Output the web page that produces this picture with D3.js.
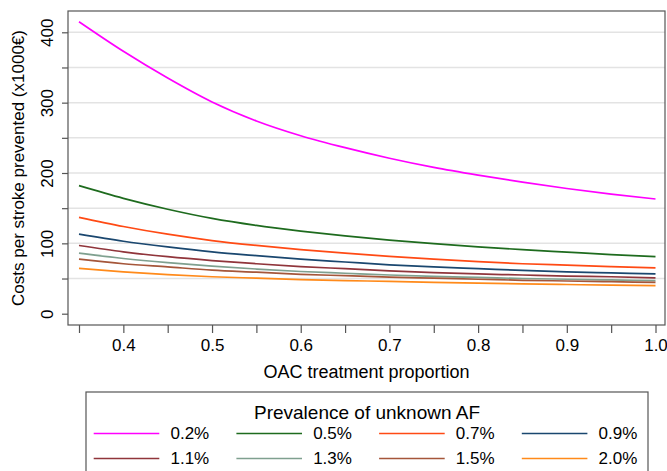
<!DOCTYPE html>
<html>
<head>
<meta charset="utf-8">
<script src="https://cdn.jsdelivr.net/npm/d3@7"></script>
<style>
  body { margin: 0; background: #fff; }
  text { font-family: "Liberation Sans", Arial, sans-serif; fill: #000; }
</style>
</head>
<body>
<div class="chart"></div>
<script>
// DATA ------------------------------------
const proportion = [0.35, 0.40, 0.45, 0.50, 0.55, 0.60, 0.65, 0.70, 0.75, 0.80, 0.85, 0.90, 0.95, 1.00];

const prev02 = [415, 373, 335, 301, 274, 253, 236, 221, 208, 197, 187, 178, 170, 163];
const prev05 = [182, 164, 148.5, 135.5, 125.5, 117.5, 110.5, 104.5, 99.5, 95, 91, 87.5, 84, 81];
const prev07 = [137, 124, 113, 104, 97, 91, 86, 81.5, 77.5, 74, 71, 69, 67, 65];
const prev09 = [113, 103, 95, 88, 82.5, 77.5, 73.5, 69.5, 66.5, 64, 61.5, 59.5, 58, 56.5];
const prev11 = [97, 88, 81, 75.5, 71, 67, 64, 61, 58.5, 56.5, 55, 53.5, 52.5, 51];
const prev13 = [86, 78.5, 72.5, 67.5, 63.5, 60, 57.5, 55, 53, 51.5, 50, 49, 48, 47];
const prev15 = [77.5, 71, 66.5, 62, 59, 56, 54, 52, 50.5, 49, 47.5, 46.5, 45.5, 44.5];
const prev20 = [64.5, 59.5, 55.5, 52.5, 50.5, 48.5, 47, 46, 44.5, 43.5, 42.5, 41.5, 40.5, 40];

const labels = ["0.2%", "0.5%", "0.7%", "0.9%", "1.1%", "1.3%", "1.5%", "2.0%"];
const colors = ["#ff00ff", "#1e6b1e", "#ff4a14", "#1a476f", "#90353b", "#7fa08f", "#a5563a", "#ff8a1a"];

const xTicks = [0.35, 0.40, 0.45, 0.50, 0.55, 0.60, 0.65, 0.70, 0.75, 0.80, 0.85, 0.90, 0.95, 1.00];
const xLabels = [0.4, 0.5, 0.6, 0.7, 0.8, 0.9, 1.0];
const yTicks = [0, 50, 100, 150, 200, 250, 300, 350, 400];
const yLabels = [0, 100, 200, 300, 400];
const yGrid = [50, 100, 150, 200, 250, 300, 350, 400];

const series = [prev02, prev05, prev07, prev09, prev11, prev13, prev15, prev20];

// CHART INIT ------------------------------
const W = 667, H = 471;
const box = {left: 68, right: 665, top: 11, bottom: 325};

const svg = d3.select(".chart").append("svg")
    .attr("width", W)
    .attr("height", H);

const xScale = d3.scaleLinear()
    .domain([0.35, 1.0])
    .range([79, 655.5]);

const yScale = d3.scaleLinear()
    .domain([0, 400])
    .range([313.7, 32.3]);

// gridlines
svg.append("g")
    .selectAll("line")
    .data(yGrid)
    .enter()
    .append("line")
    .attr("x1", box.left)
    .attr("x2", box.right)
    .attr("y1", d => yScale(d))
    .attr("y2", d => yScale(d))
    .attr("stroke", "#e3e3e3")
    .attr("stroke-width", 1.5);

// plot frame
svg.append("rect")
    .attr("x", box.left)
    .attr("y", box.top)
    .attr("width", box.right - box.left)
    .attr("height", box.bottom - box.top)
    .attr("fill", "none")
    .attr("stroke", "#555")
    .attr("stroke-width", 1.2);

// axes
const xAxis = d3.axisBottom(xScale)
    .tickValues(xTicks)
    .tickSize(8)
    .tickFormat(d => xLabels.some(v => Math.abs(v - d) < 1e-9) ? d3.format(".1f")(d) : "");

const gx = svg.append("g")
    .attr("class", "axis x-axis")
    .attr("transform", `translate(0, ${box.bottom})`)
    .call(xAxis);
gx.select(".domain").remove();
gx.selectAll("line").attr("stroke", "#555").attr("stroke-width", 1.2);
gx.selectAll("text")
    .attr("font-size", 17)
    .attr("font-family", "Liberation Sans, Arial, sans-serif")
    .attr("y", 14);

const yAxis = d3.axisLeft(yScale)
    .tickValues(yTicks)
    .tickSize(6)
    .tickFormat(d => yLabels.includes(d) ? d : "");

const gy = svg.append("g")
    .attr("class", "axis y-axis")
    .attr("transform", `translate(${box.left}, 0)`)
    .call(yAxis);
gy.select(".domain").remove();
gy.selectAll("line").attr("stroke", "#555").attr("stroke-width", 1.2);
gy.selectAll("text")
    .attr("font-size", 17)
    .attr("font-family", "Liberation Sans, Arial, sans-serif")
    .attr("transform", "rotate(-90)")
    .attr("text-anchor", "middle")
    .attr("x", 0)
    .attr("y", -15.5)
    .attr("dy", 0);

// axis titles
svg.append("text")
    .attr("x", (box.left + box.right) / 2)
    .attr("y", 378)
    .attr("text-anchor", "middle")
    .attr("font-size", 18)
    .text("OAC treatment proportion");

svg.append("text")
    .attr("transform", `translate(24, ${(box.top + box.bottom) / 2}) rotate(-90)`)
    .attr("text-anchor", "middle")
    .attr("font-size", 17)
    .text("Costs per stroke prevented (x1000€)");

// lines
const line = d3.line()
    .x((d, i) => xScale(proportion[i]))
    .y(d => yScale(d))
    .curve(d3.curveMonotoneX);

svg.append("g")
    .selectAll("path")
    .data(series)
    .enter()
    .append("path")
    .attr("d", line)
    .attr("fill", "none")
    .attr("stroke", (d, i) => colors[i])
    .attr("stroke-width", 1.7);

// LEGEND ----------------------------------
const legend = svg.append("g");
legend.append("rect")
    .attr("x", 86)
    .attr("y", 392)
    .attr("width", 648 - 86)
    .attr("height", 120)
    .attr("fill", "#fff")
    .attr("stroke", "#555")
    .attr("stroke-width", 1.2);

legend.append("text")
    .attr("x", 367)
    .attr("y", 419)
    .attr("text-anchor", "middle")
    .attr("font-size", 19)
    .text("Prevalence of unknown AF");

const colX = d3.scaleBand().domain(d3.range(4)).range([93.7, 93.7 + 4 * 142.7]);
const rowY = [433.5, 458.5];

const items = legend.selectAll(".item")
    .data(labels)
    .enter()
    .append("g")
    .attr("class", "item")
    .attr("transform", (d, i) => `translate(${colX(i % 4)}, ${rowY[Math.floor(i / 4)]})`);

items.append("line")
    .attr("x1", 0)
    .attr("x2", 65.6)
    .attr("stroke", (d, i) => colors[i])
    .attr("stroke-width", 1.7);

items.append("text")
    .attr("x", 115.5)
    .attr("dy", "0.35em")
    .attr("text-anchor", "end")
    .attr("font-size", 17)
    .text(d => d);
</script>
</body>
</html>
